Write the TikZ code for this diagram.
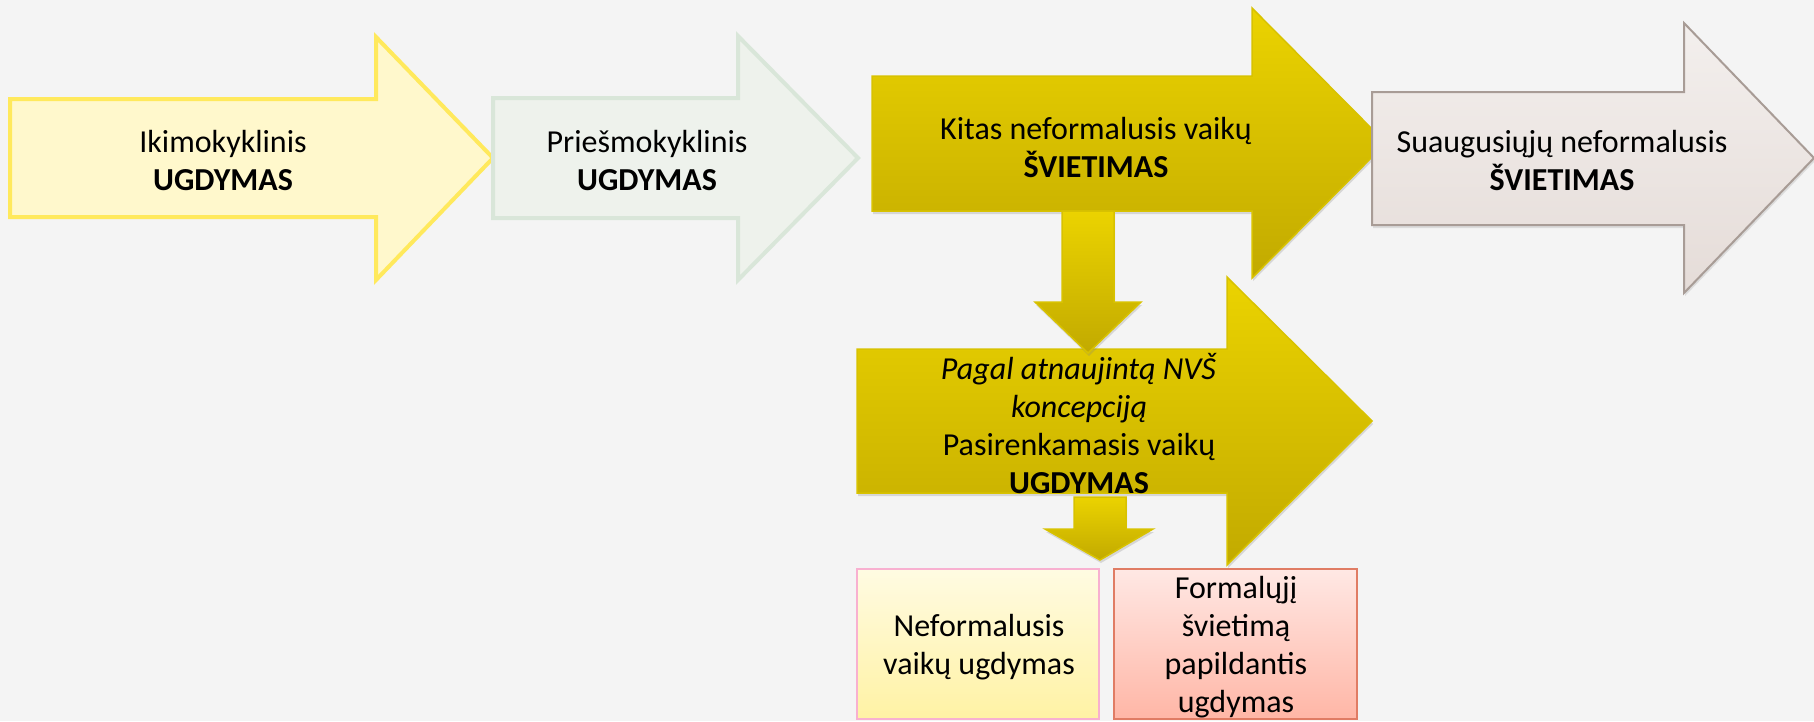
\documentclass[tikz,border=0pt]{standalone}
\usepackage{fontspec}
\setmainfont{Carlito}
\usepackage{tikz}
\usetikzlibrary{shadows}

\definecolor{bgcol}{HTML}{F4F4F4}
\definecolor{ikifill}{HTML}{FFF8CC}
\definecolor{ikiline}{HTML}{FFE95C}
\definecolor{priesfill}{HTML}{EEF2EC}
\definecolor{priesline}{HTML}{D9E6D9}
\definecolor{goldtop}{HTML}{EBD300}
\definecolor{goldbot}{HTML}{C2AA00}
\definecolor{goldline}{HTML}{D8C200}
\definecolor{suaugtop}{HTML}{F3EFED}
\definecolor{suaugbot}{HTML}{E5DCD8}
\definecolor{suaugline}{HTML}{A89C96}
\definecolor{nvutop}{HTML}{FFFBE2}
\definecolor{nvubot}{HTML}{FFF2A4}
\definecolor{nvuline}{HTML}{F8B0D0}
\definecolor{fputop}{HTML}{FFE8E4}
\definecolor{fpubot}{HTML}{FFB6A6}
\definecolor{fpuline}{HTML}{E07C64}

\tikzset{
  ikiarrow/.style={fill=ikifill, draw=ikiline, line width=4pt},
  priesarrow/.style={fill=priesfill, draw=priesline, line width=4pt},
  goldarrow/.style={top color=goldtop, bottom color=goldbot, draw=goldline, line width=1.5pt,
    drop shadow={opacity=0.25, shadow xshift=1pt, shadow yshift=-3pt}},
  suaugarrow/.style={top color=suaugtop, bottom color=suaugbot, draw=suaugline, line width=2pt,
    drop shadow={opacity=0.2, shadow xshift=1pt, shadow yshift=-3pt}},
  nvubox/.style={top color=nvutop, bottom color=nvubot, draw=nvuline, line width=2pt},
  fpubox/.style={top color=fputop, bottom color=fpubot, draw=fpuline, line width=2pt},
  txt/.style={align=center, inner sep=0pt, font=\fontsize{32}{38}\selectfont},
}

\begin{document}
\begin{tikzpicture}[x=1pt,y=-1pt]
        \fill [bgcol] (0,0) rectangle (1814,721);
        \useasboundingbox (0,0) rectangle (1814,721);
        % top row
        \path [ikiarrow] (10,99) -- (376,99) -- (376,37) -- (493,158) -- (376,280) -- (376,217) -- (10,217) -- cycle;
        \path [priesarrow] (493,98) -- (738,98) -- (738,36) -- (858,158) -- (738,280) -- (738,218) -- (493,218) -- cycle;
        \path [goldarrow] (872,76) -- (1252,76) -- (1252,8) -- (1386,143) -- (1252,278) -- (1252,211) -- (872,211) -- cycle;
        \path [suaugarrow] (1372,92) -- (1684,92) -- (1684,23) -- (1814,158) -- (1684,293) -- (1684,225) -- (1372,225) -- cycle;
        % second row
        \path [goldarrow] (857,349) -- (1227,349) -- (1227,277) -- (1372,421) -- (1227,565) -- (1227,493) -- (857,493) -- cycle;
        \path [goldarrow] (1062,211) -- (1114,211) -- (1114,302) -- (1141,302) -- (1088,353) -- (1035,302) -- (1062,302) -- cycle;
        \path [goldarrow] (1074,497) -- (1126,497) -- (1126,529) -- (1153,529) -- (1100,560) -- (1045,529) -- (1074,529) -- cycle;
        % boxes
        \path [nvubox] (857,569) rectangle (1099,719);
        \path [fpubox] (1114,569) rectangle (1357,719);
        % texts
        \node [txt] (iki) at (223,161) {Ikimokyklinis\\\textbf{UGDYMAS}};
        \node [txt] (pries) at (647,161) {Priešmokyklinis\\\textbf{UGDYMAS}};
        \node [txt] (kitas) at (1096,147) {Kitas neformalusis vaikų\\\textbf{ŠVIETIMAS}};
        \node [txt] (suaug) at (1562,160) {Suaugusiųjų neformalusis\\\textbf{ŠVIETIMAS}};
        \node [txt] (pagal) at (1079,424) {\textit{Pagal atnaujintą NVŠ}\\\textit{koncepciją}\\Pasirenkamasis vaikų\\\textbf{UGDYMAS}};
        \node [txt] (nvu) at (979,647) {Neformalusis\\vaikų ugdymas};
        \node [txt] (fpu) at (1236,647) {Formalųjį\\švietimą\\papildantis\\ugdymas};
\end{tikzpicture}
\end{document}
